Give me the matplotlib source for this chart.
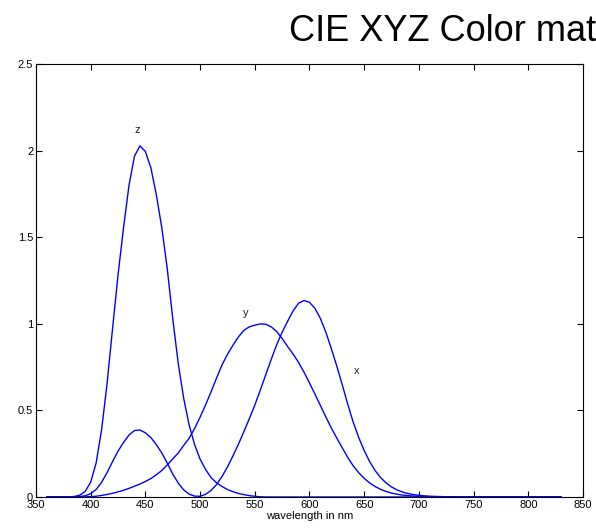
import matplotlib
matplotlib.use("Agg")
import matplotlib.pyplot as plt
import numpy as np

plt.rcParams["font.family"] = ["Liberation Sans", "DejaVu Sans"]

# CIE 1964 10 degree colour matching functions, 5 nm steps
wavelength = np.arange(360, 835, 5)
xbar = [0.0000, 0.0000, 0.0000, 0.0000, 0.0002, 0.0007, 0.0024, 0.0072,
        0.0191, 0.0434, 0.0847, 0.1406, 0.2045, 0.2647, 0.3147, 0.3577,
        0.3837, 0.3867, 0.3707, 0.3430, 0.3023, 0.2541, 0.1956, 0.1323,
        0.0805, 0.0411, 0.0162, 0.0051, 0.0038, 0.0154, 0.0375, 0.0714,
        0.1177, 0.1730, 0.2365, 0.3042, 0.3768, 0.4516, 0.5298, 0.6161,
        0.7052, 0.7938, 0.8787, 0.9512, 1.0142, 1.0743, 1.1185, 1.1343,
        1.1240, 1.0891, 1.0305, 0.9507, 0.8563, 0.7549, 0.6475, 0.5351,
        0.4316, 0.3437, 0.2683, 0.2043, 0.1526, 0.1122, 0.0813, 0.0579,
        0.0409, 0.0286, 0.0199, 0.0138, 0.0096, 0.0066, 0.0046, 0.0031,
        0.0022, 0.0015, 0.0010, 0.0007, 0.0005, 0.0004, 0.0003, 0.0002,
        0.0001, 0.0001, 0.0001, 0.0000, 0.0000, 0.0000, 0.0000, 0.0000,
        0.0000, 0.0000, 0.0000, 0.0000, 0.0000, 0.0000, 0.0000]
ybar = [0.0000, 0.0000, 0.0000, 0.0000, 0.0000, 0.0001, 0.0003, 0.0008,
        0.0020, 0.0045, 0.0088, 0.0145, 0.0214, 0.0295, 0.0387, 0.0496,
        0.0621, 0.0747, 0.0895, 0.1063, 0.1282, 0.1528, 0.1852, 0.2199,
        0.2536, 0.2977, 0.3391, 0.3954, 0.4608, 0.5314, 0.6067, 0.6857,
        0.7618, 0.8233, 0.8752, 0.9238, 0.9620, 0.9822, 0.9918, 0.9991,
        0.9973, 0.9824, 0.9556, 0.9152, 0.8689, 0.8256, 0.7774, 0.7204,
        0.6583, 0.5939, 0.5280, 0.4618, 0.3981, 0.3396, 0.2835, 0.2283,
        0.1798, 0.1402, 0.1076, 0.0812, 0.0603, 0.0441, 0.0318, 0.0226,
        0.0159, 0.0111, 0.0077, 0.0054, 0.0037, 0.0026, 0.0018, 0.0012,
        0.0008, 0.0006, 0.0004, 0.0003, 0.0002, 0.0001, 0.0001, 0.0001,
        0.0000, 0.0000, 0.0000, 0.0000, 0.0000, 0.0000, 0.0000, 0.0000,
        0.0000, 0.0000, 0.0000, 0.0000, 0.0000, 0.0000, 0.0000]
zbar = [0.0000, 0.0000, 0.0000, 0.0001, 0.0007, 0.0029, 0.0105, 0.0323,
        0.0860, 0.1971, 0.3894, 0.6568, 0.9725, 1.2825, 1.5535, 1.7985,
        1.9673, 2.0273, 1.9948, 1.9007, 1.7454, 1.5549, 1.3176, 1.0302,
        0.7721, 0.5701, 0.4153, 0.3024, 0.2185, 0.1592, 0.1120, 0.0822,
        0.0607, 0.0431, 0.0305, 0.0206, 0.0137, 0.0079, 0.0040, 0.0011,
        0.0000, 0.0000, 0.0000, 0.0000, 0.0000, 0.0000, 0.0000, 0.0000,
        0.0000, 0.0000, 0.0000, 0.0000, 0.0000, 0.0000, 0.0000, 0.0000,
        0.0000, 0.0000, 0.0000, 0.0000, 0.0000, 0.0000, 0.0000, 0.0000,
        0.0000, 0.0000, 0.0000, 0.0000, 0.0000, 0.0000, 0.0000, 0.0000,
        0.0000, 0.0000, 0.0000, 0.0000, 0.0000, 0.0000, 0.0000, 0.0000,
        0.0000, 0.0000, 0.0000, 0.0000, 0.0000, 0.0000, 0.0000, 0.0000,
        0.0000, 0.0000, 0.0000, 0.0000, 0.0000, 0.0000, 0.0000]

curve_labels = ["x", "y", "z"]
label_pos = [(643, 0.73), (542, 1.06), (443, 2.12)]

fig = plt.figure(figsize=(5.96, 5.30), dpi=100)
ax = fig.add_axes([0.0604, 0.0623, 0.9177, 0.8170])

for curve in (xbar, ybar, zbar):
    ax.plot(wavelength, curve, color="#0000ff", linewidth=1.0)

for lab, (lx, ly) in zip(curve_labels, label_pos):
    ax.text(lx, ly, lab, fontsize=8, ha="center", va="center", color="#222222")

ax.set_xlim(350, 850)
ax.set_ylim(0, 2.5)
ax.set_xticks(np.arange(350, 851, 50))
ax.set_yticks([0, 0.5, 1, 1.5, 2, 2.5])
ax.set_yticklabels(["0", "0.5", "1", "1.5", "2", "2.5"])
ax.tick_params(direction="in", top=True, right=True, length=4, width=0.8,
               labelsize=8, pad=2)
for s in ax.spines.values():
    s.set_linewidth(0.8)
ax.set_xlabel("wavelength in nm", fontsize=8, labelpad=1)

# the slide title runs past the right edge of the picture
fig.text(289 / 596, 1 - 41 / 530, "CIE XYZ Color mat",
         fontsize=26, ha="left", va="baseline")

fig.savefig("out.png", dpi=100)
